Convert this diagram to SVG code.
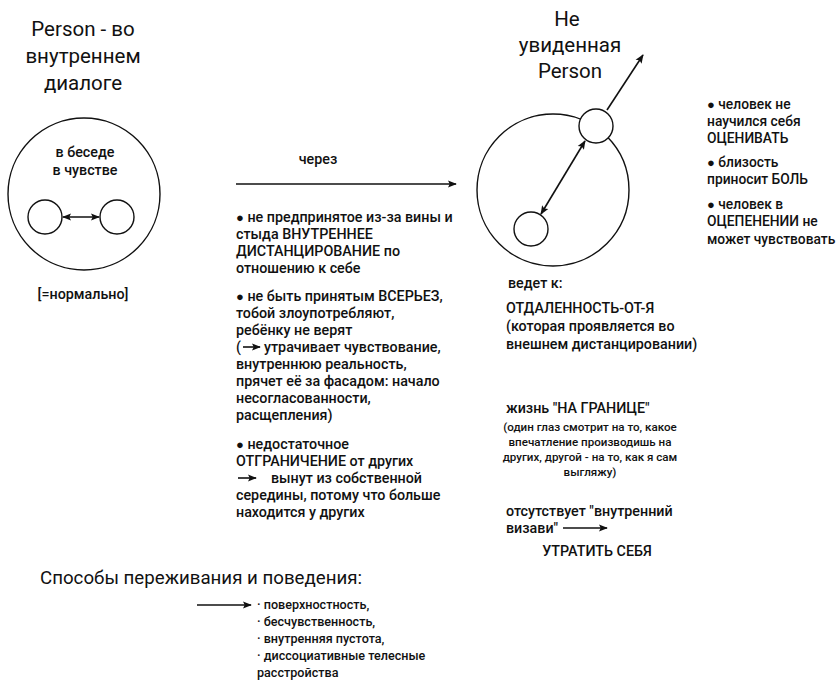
<svg xmlns="http://www.w3.org/2000/svg" width="838" height="682" viewBox="0 0 838 682">
<defs>
<marker id="ah" viewBox="0 0 10 10" refX="9" refY="5" markerWidth="9" markerHeight="9" markerUnits="userSpaceOnUse" orient="auto-start-reverse"><path d="M0,1 L10,5 L0,9 L2,5 z" fill="#111"/></marker>
<style>
text{font-family:Roboto,"Liberation Sans",sans-serif;fill:#111}
.t{font-size:20.5px}
.b{font-size:14.3px;font-weight:500}
.r{font-size:13.8px;font-weight:500}
.l{font-size:12.6px;font-weight:500}
.s{font-size:11.6px;font-weight:500}
.c{text-anchor:middle}
.d{font-size:13px}
.ln{stroke:#111;stroke-width:1.6;fill:none}
.cir{stroke:#111;stroke-width:1.4;fill:#fff}
</style>
</defs>
<rect width="838" height="682" fill="#fff"/>

<g id="left-title">
<text class="t c" x="83" y="36">Person - во</text>
<text class="t c" x="83" y="63">внутреннем</text>
<text class="t c" x="83" y="90">диалоге</text>
</g>

<g id="left-person">
<circle class="cir" cx="84" cy="194" r="76"/>
<text class="b c" x="85" y="157">в беседе</text>
<text class="b c" x="85" y="175">в чувстве</text>
<circle class="cir" id="left-a" cx="45" cy="217" r="17"/>
<circle class="cir" id="left-b" cx="117" cy="217" r="17"/>
<text class="b c" x="83" y="299">[=нормально]</text>
</g>

<g id="right-title">
<text class="t c" x="567" y="26">Не</text>
<text class="t c" x="570" y="52">увиденная</text>
<text class="t c" x="570" y="78">Person</text>
</g>

<g id="right-person">
<circle class="cir" cx="553" cy="190" r="76"/>
<circle class="cir" id="right-a" cx="596" cy="126" r="17"/>
<circle class="cir" id="right-b" cx="531" cy="229" r="17"/>
</g>

<g id="connectors">
<line class="ln" x1="63" y1="217" x2="99" y2="217" marker-start="url(#ah)" marker-end="url(#ah)"/>
<line class="ln" x1="236" y1="184" x2="456" y2="184" marker-end="url(#ah)"/>
<line class="ln" x1="585" y1="141" x2="541" y2="214" marker-start="url(#ah)" marker-end="url(#ah)"/>
<line class="ln" x1="607" y1="110" x2="643" y2="55" marker-end="url(#ah)"/>
<line class="ln" x1="563" y1="528" x2="607" y2="528" marker-end="url(#ah)"/>
<line class="ln" x1="197" y1="605" x2="251" y2="605" marker-end="url(#ah)"/>
<line class="ln" x1="243" y1="347" x2="260" y2="347" marker-end="url(#ah)"/>
<line class="ln" x1="238" y1="478" x2="256" y2="478" marker-end="url(#ah)"/>
</g>

<g id="middle-text">
<text class="b c" x="318" y="164">через</text>
<text class="b" x="236" y="222"><tspan class="d">●</tspan> не предпринятое из-за вины и</text>
<text class="b" x="236" y="239">стыда ВНУТРЕННЕЕ</text>
<text class="b" x="236" y="256">ДИСТАНЦИРОВАНИЕ по</text>
<text class="b" x="236" y="273">отношению к себе</text>
<text class="b" x="236" y="301"><tspan class="d">●</tspan> не быть принятым ВСЕРЬЕЗ,</text>
<text class="b" x="236" y="318">тобой злоупотребляют,</text>
<text class="b" x="236" y="335">ребёнку не верят</text>
<text class="b" x="236" y="352">(</text>
<text class="b" x="264" y="352">утрачивает чувствование,</text>
<text class="b" x="236" y="369">внутреннюю реальность,</text>
<text class="b" x="236" y="386">прячет её за фасадом: начало</text>
<text class="b" x="236" y="403">несогласованности,</text>
<text class="b" x="236" y="420">расщепления)</text>
<text class="b" x="236" y="449"><tspan class="d">●</tspan> недостаточное</text>
<text class="b" x="236" y="466">ОТГРАНИЧЕНИЕ от других</text>
<text class="b" x="271" y="483">вынут из собственной</text>
<text class="b" x="236" y="500">середины, потому что больше</text>
<text class="b" x="236" y="517">находится у других</text>
</g>

<g id="right-bullets">
<text class="r" x="707" y="109"><tspan class="d">●</tspan> человек не</text>
<text class="r" x="707" y="126">научился себя</text>
<text class="r" x="707" y="143">ОЦЕНИВАТЬ</text>
<text class="r" x="707" y="167"><tspan class="d">●</tspan> близость</text>
<text class="r" x="707" y="184">приносит БОЛЬ</text>
<text class="r" x="707" y="209"><tspan class="d">●</tspan> человек в</text>
<text class="r" x="707" y="226">ОЦЕПЕНЕНИИ не</text>
<text class="r" x="707" y="244">может чувствовать</text>
</g>

<g id="right-lower">
<text class="b" x="508" y="288">ведет к:</text>
<text class="b" x="506" y="313">ОТДАЛЕННОСТЬ-ОТ-Я</text>
<text class="b" x="506" y="331">(которая проявляется во</text>
<text class="b" x="506" y="349">внешнем дистанцировании)</text>
<text class="b" x="506" y="413">жизнь "НА ГРАНИЦЕ"</text>
<text class="s c" x="590" y="431">(один глаз смотрит на то, какое</text>
<text class="s c" x="590" y="446">впечатление производишь на</text>
<text class="s c" x="590" y="461">других, другой - на то, как я сам</text>
<text class="s c" x="590" y="476">выгляжу)</text>
<text class="b" x="506" y="516">отсутствует "внутренний</text>
<text class="b" x="506" y="533">визави"</text>
<text class="b c" x="597" y="556">УТРАТИТЬ СЕБЯ</text>
</g>

<g id="bottom">
<text x="40" y="584" style="font-size:18.7px">Способы переживания и поведения:</text>
<text class="l" x="257" y="609">· поверхностность,</text>
<text class="l" x="257" y="626">· бесчувственность,</text>
<text class="l" x="257" y="643">· внутренняя пустота,</text>
<text class="l" x="257" y="660">· диссоциативные телесные</text>
<text class="l" x="257" y="677">расстройства</text>
</g>
</svg>
